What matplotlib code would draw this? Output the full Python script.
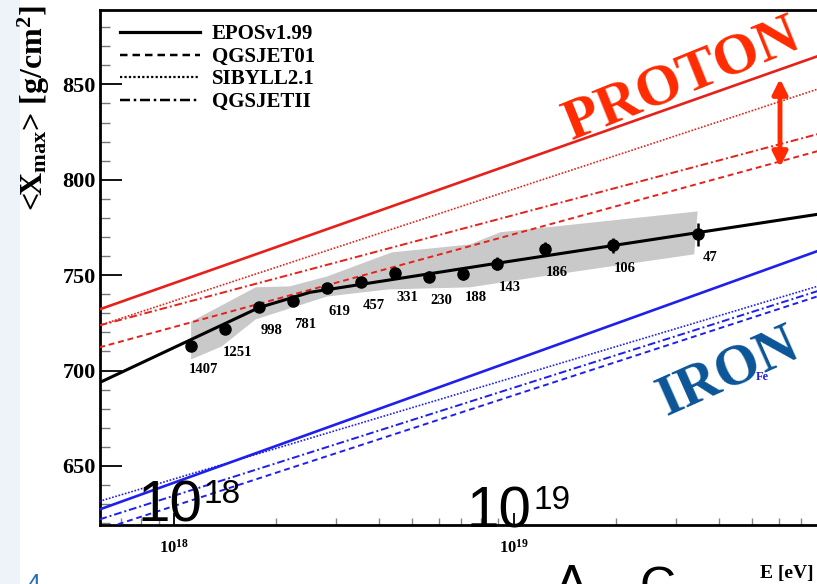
import numpy as np
import matplotlib
matplotlib.use("Agg")
import matplotlib.pyplot as plt
from matplotlib.patches import Rectangle
from matplotlib.ticker import MultipleLocator, FixedLocator, FixedFormatter

plt.rcParams['font.family'] = ['Liberation Serif', 'DejaVu Serif']
plt.rcParams['font.weight'] = 'bold'
plt.rcParams['mathtext.fontset'] = 'custom'
plt.rcParams['mathtext.rm'] = 'Liberation Serif:bold'
plt.rcParams['mathtext.it'] = 'Liberation Serif:bold'
plt.rcParams['mathtext.bf'] = 'Liberation Serif:bold'

# datos (log10(E/eV), <Xmax> en g/cm2)
log_e = [18.05, 18.15, 18.25, 18.35, 18.45, 18.55, 18.65, 18.75, 18.85, 18.95, 19.09, 19.29, 19.54]
xmax = [713.1, 721.9, 733.4, 736.4, 743.4, 746.3, 750.9, 749.2, 750.4, 756.0, 763.8, 765.6, 771.4]
xmax_err = [2.5, 2.5, 2.0, 2.0, 2.0, 2.0, 2.5, 3.0, 3.0, 3.5, 3.5, 4.0, 6.0]
n_events = [1407, 1251, 998, 781, 619, 457, 331, 230, 188, 143, 186, 106, 47]

# ajuste (linea negra)
fit_log_e = [17.78, 18.25, 18.40, 18.96, 20.0]
fit_xmax = [693.6, 733.0, 741.0, 756.5, 784.8]

# banda sistematica
band_up_e = [18.05, 18.24, 18.34, 18.45, 18.64, 18.87, 18.96, 19.54]
band_up = [725.6, 743.6, 744.1, 749.3, 761.9, 766.1, 772.5, 783.4]
band_lo_e = [18.05, 18.14, 18.24, 18.45, 18.63, 18.87, 19.05, 19.53]
band_lo = [705.8, 712.6, 726.8, 738.8, 742.5, 743.6, 748.5, 760.9]

# modelos: valores en los extremos log E = 17.78 y 20.0
modelos = ['EPOSv1.99', 'QGSJET01', 'SIBYLL2.1', 'QGSJETII']
modelo_e = [17.78, 20.0]
proton_lo = [732.0, 712.1, 723.6, 723.6]
proton_hi = [871.5, 820.2, 853.8, 829.0]
iron_lo = [627.1, 616.2, 631.4, 621.9]
iron_hi = [769.5, 745.1, 749.9, 747.7]
estilos = ['-', (0, (3, 2)), (0, (1, 1)), (0, (4, 1.5, 1, 1.5))]
anchos = [1.9, 1.4, 1.2, 1.4]

W, H = 817, 584
fig = plt.figure(figsize=(W / 100, H / 100), dpi=100)
fig.patch.set_facecolor('white')

# franja del fondo de la diapositiva
fig.patches.append(Rectangle((0, 0), 20 / W, 1, transform=fig.transFigure,
                             facecolor='#edf3f9', edgecolor='none', zorder=0))

ax = fig.add_axes([100 / W, 1 - 525 / H, 754 / W, 515 / H])
ax.set_xscale('log')
ax.set_xlim(10 ** 17.782, 10 ** 20.0)
ax.set_ylim(619, 889)

e_mod = 10 ** np.array(modelo_e)
#######################################
for i in range(len(modelos)):
    ax.plot(e_mod, [proton_lo[i], proton_hi[i]], color='#e8201a', ls=estilos[i], lw=anchos[i], zorder=3)
    ax.plot(e_mod, [iron_lo[i], iron_hi[i]], color='#1f1fee', ls=estilos[i], lw=anchos[i], zorder=3)
    # entrada de la leyenda en negro
    ax.plot([], [], color='black', ls=estilos[i], lw=anchos[i] + 0.4, label=modelos[i])

#######################################
band_x = 10 ** np.concatenate([band_up_e, band_lo_e[::-1]])
band_y = np.concatenate([band_up, band_lo[::-1]])
ax.fill(band_x, band_y, color='#c9c9c9', lw=0, zorder=2)

ax.plot(10 ** np.array(fit_log_e), fit_xmax, color='black', lw=2.2, zorder=4)
ax.errorbar(10 ** np.array(log_e), xmax, yerr=xmax_err, fmt='o', color='black',
            ms=8, elinewidth=1.8, capsize=0, zorder=5)

for e, x, n in zip(log_e, xmax, n_events):
    ax.annotate(str(n), (10 ** e, x), xytext=(9, -17), textcoords='offset points',
                ha='center', va='center', fontsize=10.5, fontweight='bold')

leg = ax.legend(loc='upper left', bbox_to_anchor=(0.027, 0.972), frameon=False,
                handlelength=3.8, handletextpad=0.6, labelspacing=0.12,
                borderpad=0, borderaxespad=0, prop={'family': 'Liberation Serif', 'weight': 'bold', 'size': 15})

#######################################
# ejes
for s in ['top', 'bottom', 'left', 'right']:
    ax.spines[s].set_linewidth(2)
ax.yaxis.set_major_locator(MultipleLocator(50))
ax.yaxis.set_minor_locator(MultipleLocator(10))
ax.tick_params(axis='y', which='major', direction='in', length=16, width=1.3, labelsize=16, pad=3)
ax.tick_params(axis='y', which='minor', direction='in', length=7, width=1.0, color='#777777')
ax.tick_params(axis='x', which='major', direction='in', length=9, width=1.3, labelsize=12, pad=10)
ax.tick_params(axis='x', which='minor', direction='in', length=5, width=1.0, color='#888888')
ax.xaxis.set_major_locator(FixedLocator([1e18, 1e19]))
ax.xaxis.set_major_formatter(FixedFormatter([r'$10^{18}$', r'$10^{19}$']))
for lab in ax.get_yticklabels():
    lab.set_fontweight('bold')

fig.text(34 / W, 1 - 108 / H, r'<X$_{\rm max}$> [g/cm$^{2}$]', rotation=90,
         ha='center', va='center', fontsize=23, fontweight='bold')
fig.text(760 / W, 1 - 578 / H, 'E [eV]', ha='left', va='baseline', fontsize=14, fontweight='bold')

#######################################
# textos de la diapositiva
fig.text(682 / W, 1 - 80 / H, 'PROTON', rotation=22, rotation_mode='anchor', ha='center', va='center',
         fontsize=42, fontweight='bold', color='#ff2a00')
fig.text(728 / W, 1 - 372 / H, 'IRON', rotation=24, rotation_mode='anchor', ha='center', va='center',
         fontsize=41, fontweight='bold', color='#0b5597')
fig.text(762 / W, 1 - 380 / H, 'Fe', fontsize=9, fontweight='bold', color='#2020ee', ha='center')

ax.annotate('', xy=(780 / W, 1 - 76 / H), xytext=(780 / W, 1 - 170 / H), xycoords='figure fraction',
            arrowprops=dict(arrowstyle='<|-|>', color='#ff2a00', lw=3.5, mutation_scale=22))

sans = ['Liberation Sans', 'DejaVu Sans']
fig.text(137 / W, 1 - 522 / H, '10', family=sans, fontsize=42, fontweight='normal', va='baseline')
fig.text(204 / W, 1 - 503 / H, '18', family=sans, fontsize=24, fontweight='normal', va='baseline')
fig.text(466 / W, 1 - 527 / H, '10', family=sans, fontsize=42, fontweight='normal', va='baseline')
fig.text(533 / W, 1 - 509 / H, '19', family=sans, fontsize=24, fontweight='normal', va='baseline')
fig.text(555 / W, 1 - 600 / H, 'A', family=sans, fontsize=36, fontweight='normal', va='baseline')
fig.text(640 / W, 1 - 602 / H, 'C', family=sans, fontsize=36, fontweight='normal', va='baseline')
fig.text(26 / W, 1 - 592 / H, '4', family=sans, fontsize=18, fontweight='normal', color='#2a6db5', va='baseline')

fig.savefig('out.png', dpi=100)
